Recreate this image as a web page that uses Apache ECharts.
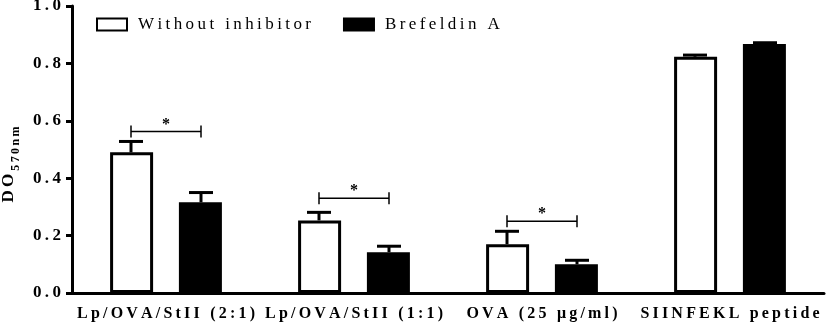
<!DOCTYPE html>
<html>
<head>
<meta charset="utf-8">
<script src="https://cdn.jsdelivr.net/npm/echarts@6/dist/echarts.min.js"></script>
<style>
  html, body { margin: 0; padding: 0; background: #fff; }
  #chart { width: 829px; height: 331px; }
</style>
</head>
<body>
<div id="chart"></div>
<script>
// data
const categories = ['Lp/OVA/StII (2:1)', 'Lp/OVA/StII (1:1)', 'OVA (25 \u03bcg/ml)', 'SIINFEKL peptide'];
const withoutInhibitor = [0.49, 0.253, 0.17, 0.823];
const withoutInhibitorErr = [0.038, 0.028, 0.045, 0.006];
const brefeldinA = [0.316, 0.142, 0.10, 0.868];
const brefeldinAErr = [0.034, 0.021, 0.014, 0.004];
const sigBracketY = [0.5625, 0.33, 0.25, null];
const yMin = 0, yMax = 1.0, yStep = 0.2;

const serif = '"Liberation Serif", "Times New Roman", serif';
// spread letters like the original figure
function spread(s) {
  return s.split('').join('\u2009');
}

const chart = echarts.init(document.getElementById('chart'));

const barW = 46;
const offs = 35;

function errorItem(sign, errs) {
  return function (params, api) {
    const i = api.value(0);
    const v = api.value(1);
    const e = errs[i];
    const p0 = api.coord([i, v]);
    const p1 = api.coord([i, v + e]);
    const x = p0[0] + sign * offs;
    const st = { stroke: '#000', lineWidth: 3 };
    return {
      type: 'group',
      children: [
        { type: 'line', shape: { x1: x, y1: p0[1], x2: x, y2: p1[1] }, style: st },
        { type: 'line', shape: { x1: x - 12, y1: p1[1], x2: x + 12, y2: p1[1] }, style: st }
      ]
    };
  };
}

const bracketData = [];
sigBracketY.forEach(function (y, i) { if (y != null) bracketData.push([i, y]); });

chart.setOption({
  animation: false,
  grid: { left: 72, right: 5, top: 6, bottom: 38, containLabel: false, outerBoundsMode: 'none' },
  legend: {
    left: 91,
    top: 11,
    itemWidth: 30,
    itemHeight: 12,
    itemGap: 32,
    icon: 'rect',
    textStyle: { fontFamily: serif, fontSize: 17, color: '#000', padding: [0, 0, 0, 6] },
    formatter: function (n) { return spread(n); },
    data: ['Without inhibitor', 'Brefeldin A']
  },
  xAxis: {
    type: 'category',
    data: categories,
    axisLine: { lineStyle: { color: '#000', width: 3 } },
    axisTick: { alignWithLabel: true, length: 6, lineStyle: { width: 3, color: '#000' } },
    axisLabel: {
      margin: 13,
      fontFamily: serif,
      fontWeight: 'bold',
      fontSize: 16,
      color: '#000',
      interval: 0,
      hideOverlap: false,
      formatter: function (v) { return spread(v); }
    }
  },
  yAxis: {
    type: 'value',
    min: yMin,
    max: yMax,
    interval: yStep,
    name: '{a|' + spread('DO') + '}{b| ' + spread('570nm') + '}',
    nameLocation: 'middle',
    nameRotate: 90,
    nameGap: 52,
    nameTextStyle: {
      padding: [0, 0, 0, -30],
      rich: {
        a: { fontFamily: serif, fontWeight: 'bold', fontSize: 17, color: '#000' },
        b: { fontFamily: serif, fontWeight: 'bold', fontSize: 12, color: '#000', verticalAlign: 'bottom', padding: [0, 0, -5, 0] }
      }
    },
    splitLine: { show: false },
    axisLine: { show: true, lineStyle: { color: '#000', width: 3 } },
    axisTick: { show: true, length: 6, lineStyle: { width: 3, color: '#000' } },
    axisLabel: {
      margin: 11,
      fontFamily: serif,
      fontWeight: 'bold',
      fontSize: 17,
      color: '#000',
      formatter: function (v) { return spread(v.toFixed(1)); }
    }
  },
  series: [
    {
      name: 'Without inhibitor',
      type: 'bar',
      data: withoutInhibitor,
      barWidth: barW - 3,
      barGap: '60%',
      itemStyle: { color: '#fff', borderColor: '#000', borderWidth: 3 }
    },
    {
      name: 'Brefeldin A',
      type: 'bar',
      data: brefeldinA,
      barWidth: barW - 3,
      barGap: '60%',
      itemStyle: { color: '#000', borderColor: '#000', borderWidth: 3 }
    },
    {
      type: 'custom',
      renderItem: errorItem(-1, withoutInhibitorErr),
      data: withoutInhibitor.map(function (v, i) { return [i, v]; }),
      z: 1
    },
    {
      type: 'custom',
      renderItem: errorItem(1, brefeldinAErr),
      data: brefeldinA.map(function (v, i) { return [i, v]; }),
      z: 1
    },
    {
      type: 'custom',
      data: bracketData,
      renderItem: function (params, api) {
        const i = api.value(0);
        const p = api.coord([i, api.value(1)]);
        const x1 = p[0] - offs, x2 = p[0] + offs;
        const st = { stroke: '#000', lineWidth: 1.5 };
        return {
          type: 'group',
          children: [
            { type: 'line', shape: { x1: x1, y1: p[1], x2: x2, y2: p[1] }, style: st },
            { type: 'line', shape: { x1: x1, y1: p[1] - 6, x2: x1, y2: p[1] + 6 }, style: st },
            { type: 'line', shape: { x1: x2, y1: p[1] - 6, x2: x2, y2: p[1] + 6 }, style: st },
            {
              type: 'text',
              style: {
                x: p[0], y: p[1] + 1, text: '*',
                fill: '#000', font: 'bold 16px ' + serif,
                textAlign: 'center', textVerticalAlign: 'bottom'
              }
            }
          ]
        };
      }
    }
  ]
});
</script>
</body>
</html>
